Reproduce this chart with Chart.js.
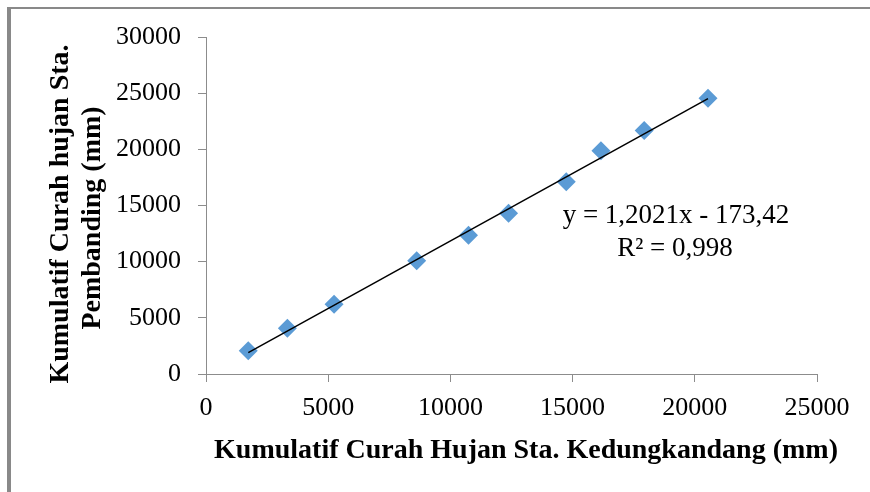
<!DOCTYPE html>
<html>
<head>
<meta charset="utf-8">
<script src="https://cdn.jsdelivr.net/npm/chart.js@4"></script>
<style>
  body { margin: 0; background: #fff; }
  #wrap { position: relative; width: 870px; height: 492px; overflow: hidden; }
  #frame { position: absolute; left: 7px; top: 7px; width: 900px; height: 600px;
           border-top: 2px solid #898989; border-left: 4px solid #898989; }
  #chart { position: absolute; left: 0; top: 0; }
</style>
</head>
<body>
<div id="wrap">
  <div id="frame"></div>
  <canvas id="chart" width="870" height="492"></canvas>
</div>
<script>
// kumulatif curah hujan (mm)
const x_values = [1730, 3330, 5240, 8620, 10740, 12380, 14740, 16160, 17930, 20540]
const y_values = [2080, 4070, 6210, 10090, 12350, 14310, 17120, 19880, 21670, 24550]

// trendline dari excel
const slope = 1.2021
const intercept = -173.42
const eq_lines = ['y = 1,2021x - 173,42', 'R² = 0,998']

const x_title = 'Kumulatif Curah Hujan Sta. Kedungkandang (mm)'
const y_title = ['Kumulatif Curah hujan Sta.', 'Pembanding (mm)']

const serif = '"Liberation Serif", "Times New Roman", serif'
const axis_grey = '#8c8c8c'

let points = x_values.map((x, i) => ({x: x, y: y_values[i]}))
let x_min = Math.min(...x_values)
let x_max = Math.max(...x_values)
let trend = [
    {x: x_min, y: slope * x_min + intercept},
    {x: x_max, y: slope * x_max + intercept},
]

// judul sumbu + persamaan ditulis manual biar posisinya sama dengan excel
const text_labels = {
    id: 'text_labels',
    afterDraw(chart) {
        const ctx = chart.ctx
        ctx.save()
        ctx.fillStyle = '#000'
        ctx.textAlign = 'center'
        ctx.textBaseline = 'alphabetic'

        ctx.font = '27px ' + serif
        ctx.fillText(eq_lines[0], 676, 223)
        ctx.fillText(eq_lines[1], 675, 256)

        ctx.font = 'bold 28px ' + serif
        ctx.fillText(x_title, 526, 458)

        ctx.translate(0, 0)
        ctx.rotate(-Math.PI / 2)
        ctx.fillText(y_title[0], -214, 68)
        ctx.fillText(y_title[1], -218, 100)
        ctx.restore()
    }
}

function plain_number(value) {
    return String(value)
}

let ctx = document.getElementById('chart')

let my_chart = new Chart(ctx, {
    type: 'scatter',
    data: {
        datasets: [
            {
                label: 'Linear',
                type: 'line',
                data: trend,
                borderColor: '#000',
                borderWidth: 1.5,
                pointRadius: 0,
                fill: false,
                order: 0,
            },
            {
                label: 'Data',
                data: points,
                pointStyle: 'rectRot',
                pointRadius: 9.5,
                pointBackgroundColor: '#5b9bd5',
                pointBorderColor: '#5b9bd5',
                pointBorderWidth: 0,
                order: 1,
            }
        ]
    },
    options: {
        responsive: false,
        animation: false,
        layout: { padding: { left: 0, top: 37, right: 53, bottom: 0 } },
        plugins: {
            legend: { display: false },
            tooltip: { enabled: false },
        },
        scales: {
            x: {
                type: 'linear',
                min: 0,
                max: 25000,
                afterFit(scale) { scale.height = 118 },
                ticks: {
                    stepSize: 5000,
                    padding: 11,
                    color: '#000',
                    font: { family: serif, size: 26 },
                    callback: plain_number,
                },
                grid: { drawOnChartArea: false, tickLength: 8, color: axis_grey },
                border: { color: axis_grey },
            },
            y: {
                type: 'linear',
                min: 0,
                max: 30000,
                afterFit(scale) { scale.width = 206 },
                ticks: {
                    stepSize: 5000,
                    padding: 17,
                    color: '#000',
                    font: { family: serif, size: 26 },
                    callback: plain_number,
                },
                grid: { drawOnChartArea: false, tickLength: 8, color: axis_grey },
                border: { color: axis_grey },
            }
        }
    },
    plugins: [text_labels]
});
</script>
</body>
</html>
